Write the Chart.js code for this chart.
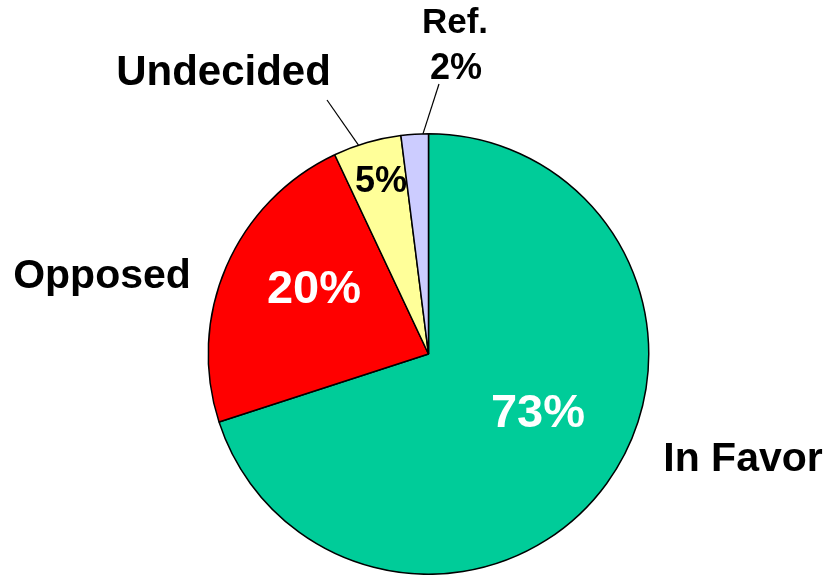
<!DOCTYPE html>
<html>
<head>
<meta charset="utf-8">
<script src="https://cdn.jsdelivr.net/npm/chart.js@4/dist/chart.umd.min.js"></script>
<style>
  html, body { margin: 0; padding: 0; background: #fff; overflow: hidden; }
  #pie { display: block; }
</style>
</head>
<body>
<canvas id="pie" width="830" height="575"></canvas>
<script>
// vote pie: slice sizes, printed percents as shown
"use strict";

const CATEGORIES = ["In Favor", "Opposed", "Undecided", "Ref."];
const VALUES = [70, 23, 5, 2];
const PCT_TEXT = ["73%", "20%", "5%", "2%"];
const COLORS = ["#00CC99", "#FF0000", "#FFFF99", "#CCCCFF"];

const FONT = '"Liberation Sans", Arial, Helvetica, sans-serif';

// text placement, offsets from pie centre (baseline, centred)
const CAT_POS = [[314.5, 117, 41], [-326.5, -66, 41], [-205, -269, 42], [26.5, -321, 35]];
const PCT_POS = [[109.5, 73, 47, "#fff"], [-114.5, -51, 47, "#fff"], [-47.5, -162, 36, "#000"], [27.5, -275, 36, "#000"]];
// leader lines: start offset from centre, and where along the slice they hit the rim
const LEADERS = [
  { idx: 2, from: [-101.5, -254], frac: 0.37 },
  { idx: 3, from: [10.5, -270], frac: 0.8 },
];

const labelPlugin = {
  id: "pieLabels",
  afterDatasetsDraw(chart) {
    const ctx = chart.ctx;
    const arcs = chart.getDatasetMeta(0).data;
    const cx = arcs[0].x, cy = arcs[0].y;
    ctx.save();
    ctx.strokeStyle = "#000";
    ctx.lineWidth = 1.2;
    LEADERS.forEach(l => {
      const a = arcs[l.idx];
      const ang = a.startAngle + (a.endAngle - a.startAngle) * l.frac;
      ctx.beginPath();
      ctx.moveTo(cx + l.from[0], cy + l.from[1]);
      ctx.lineTo(cx + Math.cos(ang) * a.outerRadius, cy + Math.sin(ang) * a.outerRadius);
      ctx.stroke();
    });
    ctx.textAlign = "center";
    ctx.textBaseline = "alphabetic";
    CATEGORIES.forEach((name, i) => {
      const p = CAT_POS[i];
      ctx.fillStyle = "#000";
      ctx.font = `bold ${p[2]}px ${FONT}`;
      ctx.fillText(name, cx + p[0], cy + p[1]);
    });
    PCT_TEXT.forEach((t, i) => {
      const p = PCT_POS[i];
      ctx.fillStyle = p[3];
      ctx.font = `bold ${p[2]}px ${FONT}`;
      ctx.fillText(t, cx + p[0], cy + p[1]);
    });
    ctx.restore();
  },
};

new Chart(document.getElementById("pie"), {
  type: "pie",
  data: {
    labels: CATEGORIES,
    datasets: [{
      data: VALUES,
      backgroundColor: COLORS,
      borderColor: "#000",
      borderWidth: 1.5,
    }],
  },
  options: {
    responsive: false,
    animation: false,
    rotation: 0,
    layout: { padding: { top: 133, bottom: 0, left: 207, right: 180 } },
    plugins: { legend: { display: false }, tooltip: { enabled: false } },
  },
  plugins: [labelPlugin],
});
</script>
</body>
</html>
